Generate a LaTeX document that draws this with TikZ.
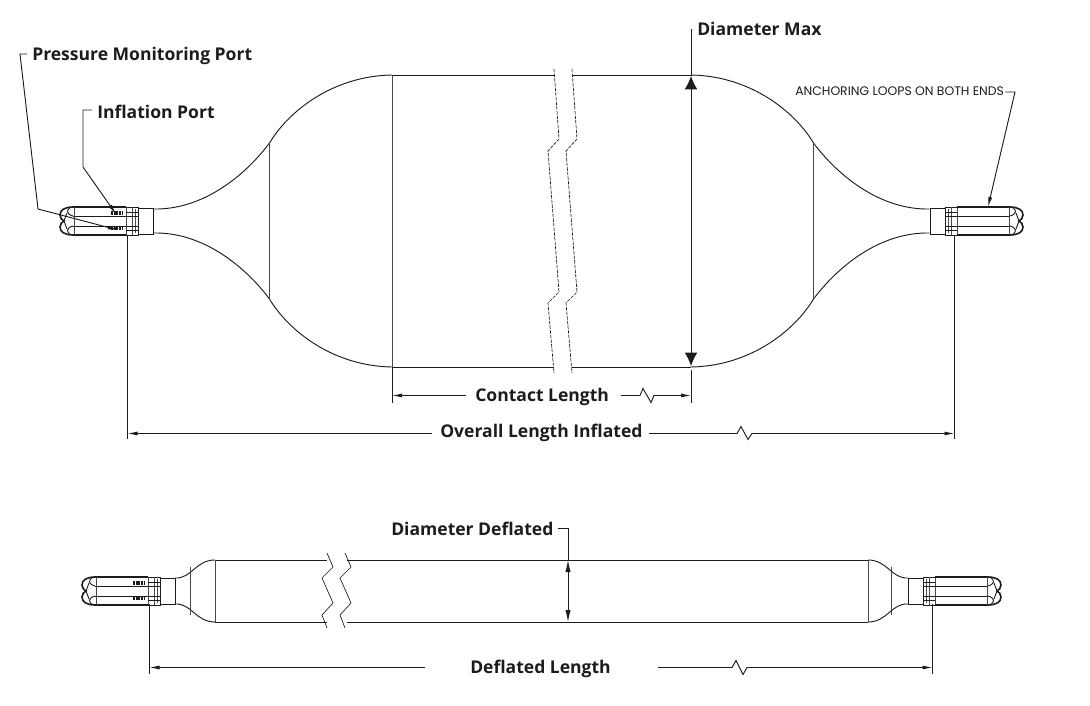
\documentclass[tikz,border=0pt]{standalone}
\usepackage{fontspec}
\setmainfont{Open Sans}
\newfontfamily\notefont{Poppins}
\usetikzlibrary{positioning, arrows.meta}
\definecolor{inkline}{HTML}{1C1C1C}
\tikzset{
	part/.style={draw=inkline, line width=0.7pt},
	heavy part/.style={draw=inkline, line width=1.2pt},
	thin part/.style={draw=inkline!80, line width=0.55pt},
	brk/.style={draw=inkline, line width=0.5pt, dash pattern=on 2.6pt off 0.9pt},
	dim/.style={draw=inkline, line width=0.7pt},
	ext/.style={draw=inkline, line width=0.7pt},
	label/.style={font=\fontsize{13.15}{16}\selectfont\bfseries, text=inkline, inner sep=0pt},
	small tip/.style={-{Latex[length=7.5pt,width=3pt]}},
	big tip/.style={-{Latex[length=10pt,width=9.5pt]}},
	pics/loopend/.style={code={
		\draw[part, fill=white] (-15,-13) rectangle (0,13);
		\draw[part] (-30,-14) -- (-15,-14) -- (-15,14) -- (-30,14);
		\draw[thin part] (-18,-12) -- (-18,12) (-21,-14) -- (-21,14) (-27,-14) -- (-27,14);
		\draw[part] (-27,-9) -- (-15,-9) (-27,9) -- (-15,9);
		\draw[part] (-15,-5) -- (-80,-5) (-15,5) -- (-80,5);
		\draw[heavy part] (-27,-14) -- (-80,-14) .. controls (-88,-14) and (-93,-11) .. (-93,-6) .. controls (-93,-3) and (-91,-1) .. (-89,0) .. controls (-91,1) and (-93,3) .. (-93,6) .. controls (-93,11) and (-88,14) .. (-80,14) -- (-27,14);
		\draw[part] (-82,-14) .. controls (-87,-11) and (-87,-7) .. (-80,-5) (-82,14) .. controls (-87,11) and (-87,7) .. (-80,5);
		\draw[part] (-86,-8) -- (-89,0) -- (-86,8);
		\draw[thin part] (-79,-14) -- (-79,14);
	}},
	pics/hatch/.style={code={
		\draw[draw=inkline, line width=2.6pt, dash pattern=on 1.6pt off 0.4pt] (-42,-8) -- (-31,-8) (-42,7) -- (-31,7);
	}}
}
\begin{document}
\begin{tikzpicture}[x=0.75pt, y=-0.75pt]
	\useasboundingbox (0,0) rectangle (1090,706);

	\foreach \sx in {-1,1} {
		\foreach \sy in {-1,1} {
			\begin{scope}[shift={(541.5,221)}, xscale=\sx, yscale=\sy]
				\draw[part] (388,12) .. controls (338,11) and (296,46) .. (272,78) .. controls (253.5,109) and (209.5,145) .. (149.5,146);
			\end{scope}
			\begin{scope}[shift={(541.5,591)}, xscale=\sx, yscale=\sy]
				\draw[part] (366.5,13) .. controls (350,12) and (346,31) .. (326.5,31);
			\end{scope}
		}
	}
	\draw[thin part] (392,75) -- (392,367);
	\draw[thin part] (269,143) -- (269,299);
	\draw[thin part] (813,143) -- (813,299);
	\draw[part] (392,75) -- (554,75) (572,75) -- (691,75);
	\draw[part] (392,367) -- (554,367) (572,367) -- (691,367);
	\foreach \dx in {0,18} {
		\draw[brk, xshift=\dx*0.75pt] (554,69) -- (559,139) -- (548,151) -- (559,292) -- (548,303) -- (554,373);
	}
	\pic at (153,221) {loopend};
	\pic at (153,221) {hatch};
	\pic[xscale=-1] at (930,221) {loopend};

	\draw[part] (215,560) -- (327,560) (347,560) -- (868,560);
	\draw[part] (215,622) -- (327,622) (347,622) -- (868,622);
	\draw[thin part] (215,560) -- (215,622);
	\draw[thin part] (868,560) -- (868,622);
	\draw[thin part] (190,567) -- (190,615);
	\draw[thin part] (891,567) -- (891,615);
	\foreach \dx in {0,18} {
		\draw[part, line width=0.5pt, xshift=\dx*0.75pt] (327,553) -- (333,567) -- (322,578) -- (333,603) -- (322,615) -- (327,628);
	}
	\pic at (175,591) {loopend};
	\pic at (175,591) {hatch};
	\pic[xscale=-1] at (908,591) {loopend};

	\node[label, anchor=west] (PressureText) at (32,56) {Pressure Monitoring Port};
	\node[label, anchor=west] (InflationText) at (97,112) {Inflation Port};
	\node[label, anchor=west] (MaxText) at (697,29) {Diameter Max};
	\node[anchor=west, inner sep=0pt, text=inkline, font=\notefont\fontsize{9.3}{11}\selectfont] (LoopsText) at (795,91.5) {ANCHORING LOOPS ON BOTH ENDS};
	\node[label, anchor=west] (ContactText) at (475,397) {Contact Length};
	\node[label, anchor=west] (OverallText) at (440,433) {Overall Length Inflated};
	\node[label, anchor=west] (DeflatedDiaText) at (391,529) {Diameter Deflated};
	\node[label, anchor=west] (DeflatedText) at (470,669) {Deflated Length};

	\coordinate (PressureA) at (27,54);
	\coordinate (PressureB) at (20,54);
	\coordinate (PressureC) at (38,209);
	\coordinate (PressureD) at (118,230);
	\coordinate (InflationA) at (92,110);
	\coordinate (InflationB) at (83,110);
	\coordinate (InflationC) at (83,167);
	\coordinate (InflationD) at (116,214);
	\coordinate (LoopsA) at (1005,92);
	\coordinate (LoopsB) at (1015,92);
	\coordinate (LoopsC) at (988,207);
	\draw[dim, small tip] (PressureA) -- (PressureB) -- (PressureC) -- (PressureD);
	\draw[dim, small tip] (InflationA) -- (InflationB) -- (InflationC) -- (InflationD);
	\draw[dim, small tip] (LoopsA) -- (LoopsB) -- (LoopsC);

	\coordinate (MaxTop) at (691,29);
	\coordinate (MaxA) at (691,76);
	\coordinate (MaxB) at (691,366);
	\draw[dim] (MaxTop) -- (MaxA);
	\draw[dim, big tip] (691,220) -- (MaxA);
	\draw[dim, big tip] (691,220) -- (MaxB);

	\coordinate (ContactL) at (392,395.5);
	\coordinate (ContactR) at (691,395.5);
	\coordinate (ContactZig) at (640,395.5);
	\coordinate (ContactGapL) at (466,395.5);
	\coordinate (ContactGapR) at (621,395.5);
	\draw[ext] (392,367) -- (392,403);
	\draw[ext] (691,370) -- (691,403);
	\draw[dim, small tip] (ContactGapL) -- (ContactL);
	\draw[dim, small tip] (ContactGapR) -- (ContactZig) -- ++(3,-7) -- ++(8,14) -- ++(3,-7) -- (ContactR);

	\coordinate (OverallL) at (127.5,433.5);
	\coordinate (OverallR) at (954.5,433.5);
	\coordinate (OverallZig) at (737,433.5);
	\coordinate (OverallGapL) at (432,433.5);
	\coordinate (OverallGapR) at (649,433.5);
	\draw[ext] (127.5,235) -- (127.5,439);
	\draw[ext] (954.5,235) -- (954.5,439);
	\draw[dim, small tip] (OverallGapL) -- (OverallL);
	\draw[dim, small tip] (OverallGapR) -- (OverallZig) -- ++(4,-7) -- ++(7,13) -- ++(4,-6) -- (OverallR);

	\coordinate (DiaTick) at (558,528);
	\coordinate (DiaTop) at (568,528);
	\coordinate (DiaA) at (568,560);
	\coordinate (DiaB) at (568,622);
	\draw[dim] (DiaTick) -- (DiaTop) -- (DiaA);
	\draw[dim, -{Latex[length=9pt,width=4pt]}] (568,590) -- (DiaA);
	\draw[dim, -{Latex[length=9pt,width=4pt]}] (568,590) -- (DiaB);

	\coordinate (DeflatedL) at (149.5,667.5);
	\coordinate (DeflatedR) at (932.5,667.5);
	\coordinate (DeflatedZig) at (732,667.5);
	\coordinate (DeflatedGapL) at (425,667.5);
	\coordinate (DeflatedGapR) at (658,667.5);
	\draw[ext] (149.5,604) -- (149.5,674);
	\draw[ext] (932.5,604) -- (932.5,674);
	\draw[dim, small tip] (DeflatedGapL) -- (DeflatedL);
	\draw[dim, small tip] (DeflatedGapR) -- (DeflatedZig) -- ++(4,-7) -- ++(7,14) -- ++(4,-7) -- (DeflatedR);
\end{tikzpicture}
\end{document}
